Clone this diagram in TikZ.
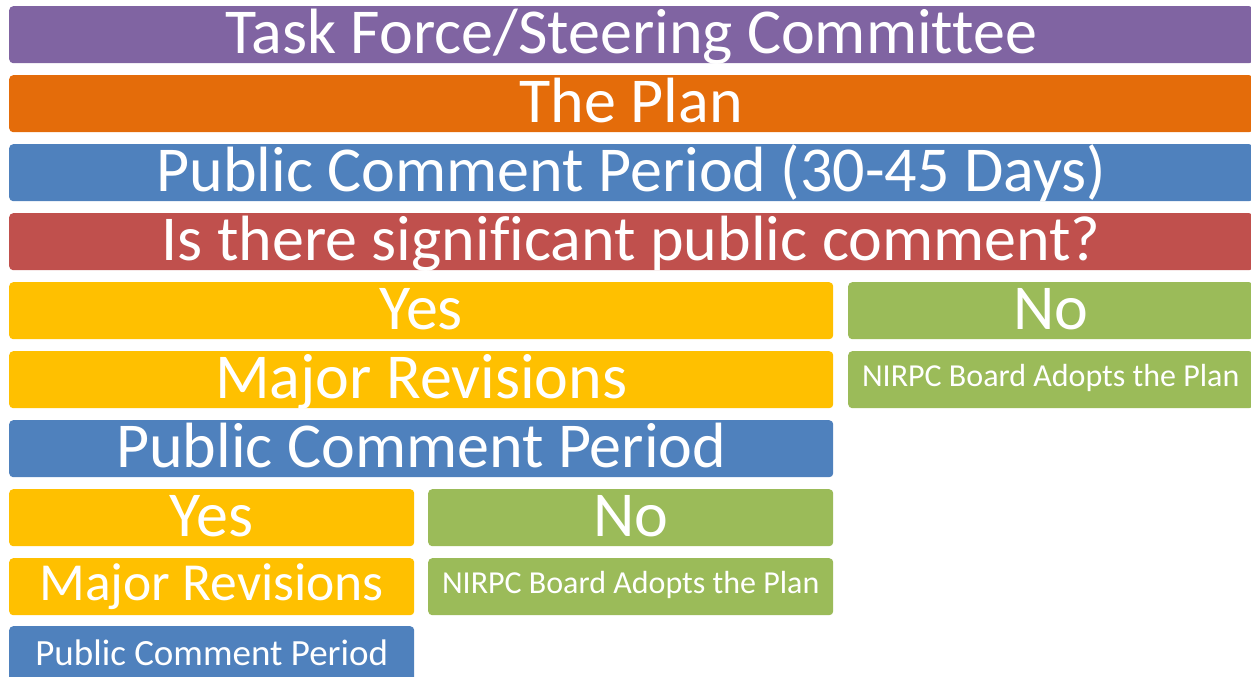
\documentclass[tikz,border=0pt]{standalone}
\usepackage{fontspec}
\setmainfont[Ligatures=NoCommon]{Carlito}
\definecolor{cpurple}{HTML}{8064A2}
\definecolor{corange}{HTML}{E46C0A}
\definecolor{cblue}{HTML}{4F81BD}
\definecolor{cred}{HTML}{C0504D}
\definecolor{cyellow}{HTML}{FFC000}
\definecolor{cgreen}{HTML}{9BBB59}
\newcommand{\bigtxt}{\fontsize{64}{70}\selectfont}
\newcommand{\midtxt}{\fontsize{53.5}{60}\selectfont}
\newcommand{\smltxt}{\fontsize{37}{44}\selectfont}
\newcommand{\tinytxt}{\fontsize{32}{36}\selectfont}
% baseline offset b below the bar top: text height = 2b - bar height
\tikzset{
  bar/.style={rounded corners=4pt, inner sep=0pt, text=white, anchor=north west,
    minimum height=57pt, text depth=0pt, text height=37pt, font=\bigtxt},
  midbar/.style={bar, font=\midtxt, text height=27pt},
  smlbar/.style={bar, font=\smltxt, minimum height=70pt, text height=8pt},
  tinybar/.style={bar, font=\tinytxt, text height=14.4pt},
}
\begin{document}
\begin{tikzpicture}[x=1pt,y=-1pt]
\useasboundingbox (0,0) rectangle (1251,677);
\clip (0,0) rectangle (1251,677);
% full-width rows
\node[bar, fill=cpurple, minimum width=1244pt] (task) at (9,6) {Task Force/Steering Committee};
\node[bar, fill=corange, minimum width=1244pt] (plan) at (9,75) {The Plan};
\node[bar, fill=cblue, minimum width=1244pt] (pcp) at (9,144) {Public Comment Period (30-45 Days)};
\node[bar, fill=cred, minimum width=1244pt] (sig) at (9,213) {Is there significant public comment?};
% first branch
\node[bar, fill=cyellow, minimum width=824pt] (yes1) at (9,282) {Yes};
\node[bar, fill=cgreen, minimum width=405pt] (no1) at (848,282) {No};
\node[bar, fill=cyellow, minimum width=824pt] (rev1) at (9,351) {Major Revisions};
\node[tinybar, fill=cgreen, minimum width=405pt] (adopt1) at (848,351) {NIRPC Board Adopts the Plan};
\node[bar, fill=cblue, minimum width=824pt] (pcp2) at (9,420) {Public Comment Period};
% second branch
\node[bar, fill=cyellow, minimum width=405pt] (yes2) at (9,489) {Yes};
\node[bar, fill=cgreen, minimum width=405pt] (no2) at (428,489) {No};
\node[midbar, fill=cyellow, minimum width=405pt] (rev2) at (9,558) {Major Revisions};
\node[tinybar, fill=cgreen, minimum width=405pt] (adopt2) at (428,558) {NIRPC Board Adopts the Plan};
\node[smlbar, fill=cblue, minimum width=405pt] (pcp3) at (9,626) {Public Comment Period};
\end{tikzpicture}
\end{document}
